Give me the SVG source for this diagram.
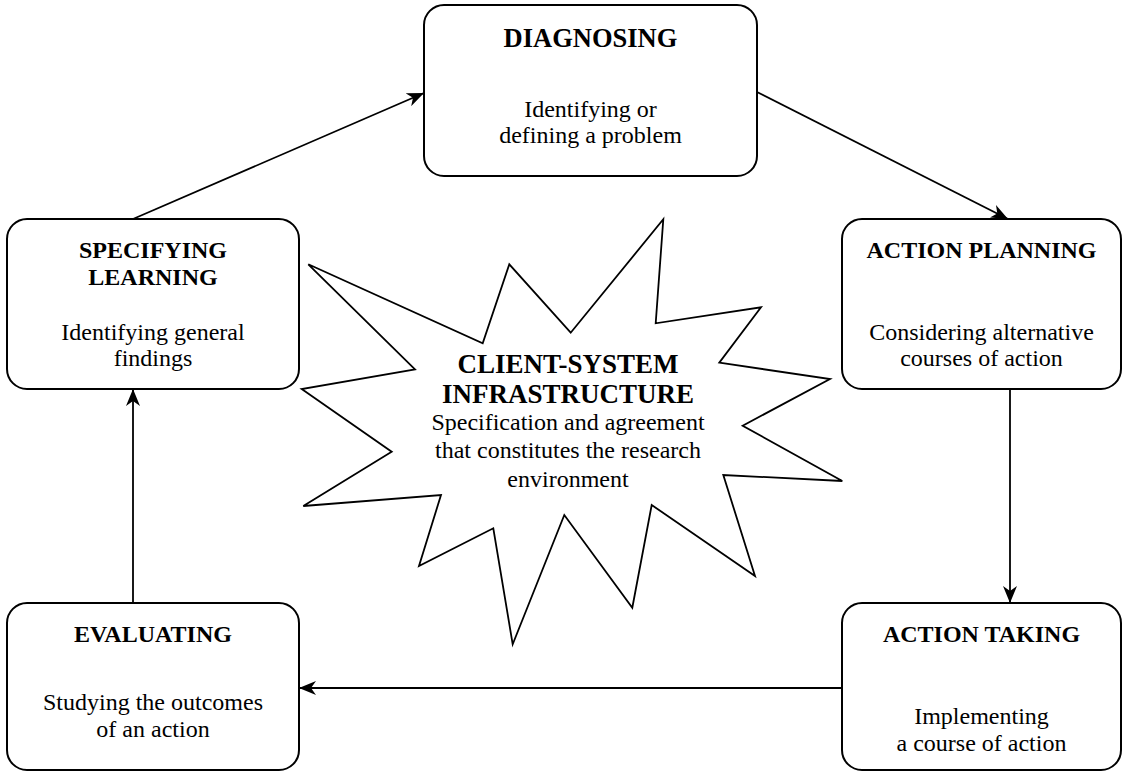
<svg xmlns="http://www.w3.org/2000/svg" width="1125" height="772" viewBox="0 0 1125 772">
<style>
.box{fill:#fff;stroke:#000;stroke-width:2}
.star{fill:#fff;stroke:#000;stroke-width:1.8;stroke-linejoin:miter}
.t{font-family:"Liberation Serif","Times New Roman",serif;font-weight:bold;font-size:24px;text-anchor:middle;fill:#000}
.b{font-family:"Liberation Serif","Times New Roman",serif;font-size:24px;text-anchor:middle;fill:#000}
.st{font-family:"Liberation Serif","Times New Roman",serif;font-weight:bold;font-size:27px;text-anchor:middle;fill:#000}
.conn{stroke:#000;stroke-width:1.8;fill:none;marker-end:url(#arr)}
</style>
<defs>
<marker id="arr" markerUnits="userSpaceOnUse" viewBox="0 0 17 14" refX="17" refY="7" markerWidth="17" markerHeight="14" orient="auto">
<path d="M0,0 L17,7 L0,14 L5,7 Z" fill="#000"/>
</marker>
</defs>
<g id="connectors">
<line class="conn" x1="133" y1="219" x2="424" y2="93"/>
<line class="conn" x1="757" y1="92" x2="1008" y2="219"/>
<line class="conn" x1="1010" y1="389" x2="1010" y2="603"/>
<line class="conn" x1="842" y1="688" x2="299" y2="688"/>
<line class="conn" x1="133" y1="603" x2="133" y2="389"/>
</g>
<g id="diagnosing">
<rect class="box" x="424" y="5" width="333" height="171" rx="20"/>
<text class="t" x="590.5" y="47" style="font-size:26.5px">DIAGNOSING</text>
<text class="b" x="590.5" y="117">Identifying or</text>
<text class="b" x="590.5" y="143">defining a problem</text>
</g>
<g id="specifying-learning">
<rect class="box" x="7" y="219" width="292" height="170" rx="20"/>
<text class="t" x="153" y="258">SPECIFYING</text>
<text class="t" x="153" y="285">LEARNING</text>
<text class="b" x="153" y="340">Identifying general</text>
<text class="b" x="153" y="366">findings</text>
</g>
<g id="action-planning">
<rect class="box" x="842" y="219" width="279" height="170" rx="20"/>
<text class="t" x="981.5" y="258">ACTION PLANNING</text>
<text class="b" x="981.5" y="340">Considering alternative</text>
<text class="b" x="981.5" y="366">courses of action</text>
</g>
<g id="evaluating">
<rect class="box" x="7" y="603" width="292" height="167" rx="20"/>
<text class="t" x="153" y="642">EVALUATING</text>
<text class="b" x="153" y="710">Studying the outcomes</text>
<text class="b" x="153" y="737">of an action</text>
</g>
<g id="action-taking">
<rect class="box" x="842" y="603" width="279" height="167" rx="20"/>
<text class="t" x="981.5" y="642">ACTION TAKING</text>
<text class="b" x="981.5" y="724">Implementing</text>
<text class="b" x="981.5" y="751">a course of action</text>
</g>
<g id="client-system-infrastructure">
<polygon class="star" points="308.3,264.3 482.7,343.3 509.3,264.3 570.7,332.7 663.3,219.3 655.7,323.3 761,307.3 719.3,362.7 830,379 742.7,425.7 842.3,481 723.3,475 755,576 651.7,505 632.3,607.7 564.3,515 512.7,644.3 493.3,528.3 419,566 441,495 303.3,506 391.7,451.7 301.7,389 415,369.3"/>
<text class="st" x="568" y="373">CLIENT-SYSTEM</text>
<text class="st" x="568" y="403">INFRASTRUCTURE</text>
<text class="b" x="568" y="430">Specification and agreement</text>
<text class="b" x="568" y="458">that constitutes the research</text>
<text class="b" x="568" y="487">environment</text>
</g>
</svg>
